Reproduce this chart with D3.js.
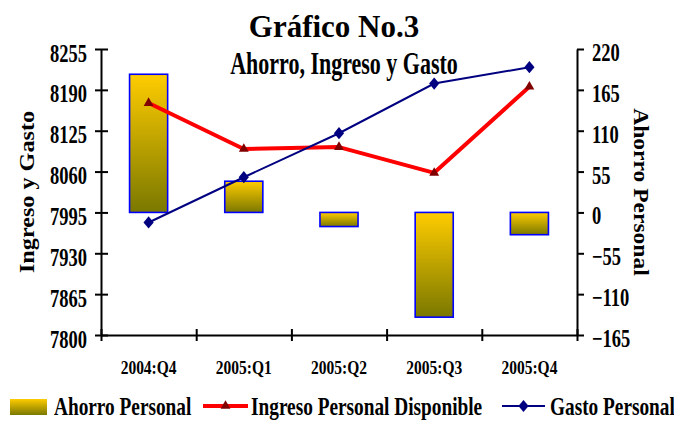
<!DOCTYPE html>
<html>
<head>
<meta charset="utf-8">
<script src="https://cdn.jsdelivr.net/npm/d3@7"></script>
<style>
  html, body { margin: 0; padding: 0; background: #fff; }
  svg { display: block; }
</style>
</head>
<body>
<div id="chart"></div>
<script>
const categories = ["2004:Q4", "2005:Q1", "2005:Q2", "2005:Q3", "2005:Q4"];
const ahorro = [186, 42, -19, -141, -30];
const ingreso = [8169, 8096, 8099, 8058, 8195];
const gasto = [7979, 8051, 8121, 8200, 8226];
const leftTicks = [7800, 7865, 7930, 7995, 8060, 8125, 8190, 8255];
const rightTicks = [-165, -110, -55, 0, 55, 110, 165, 220];
const seriesNames = ["Ahorro Personal", "Ingreso Personal Disponible", "Gasto Personal"];
const titleText = "Gráfico No.3";
const subtitleText = "Ahorro, Ingreso y Gasto";
const leftTitle = "Ingreso y Gasto";
const rightTitle = "Ahorro Personal";

const W = 674, H = 421;
const FONT = "'Liberation Serif', 'Times New Roman', serif";
const plot = { left: 101, right: 577, top: 49, bottom: 335 };

const svg = d3.select("#chart").append("svg")
  .attr("width", W).attr("height", H)
  .attr("font-family", FONT).attr("font-weight", "bold");
svg.append("rect").attr("width", W).attr("height", H).attr("fill", "#fff");

const defs = svg.append("defs");
const grad = defs.append("linearGradient").attr("id", "barGrad")
  .attr("x1", 0).attr("y1", 0).attr("x2", 0).attr("y2", 1);
grad.append("stop").attr("offset", "0%").attr("stop-color", "#FFCC00");
grad.append("stop").attr("offset", "100%").attr("stop-color", "#7A7800");

function sText(parent, x, y, str, size, sx, sy, anchor, rot) {
  return parent.append("text")
    .attr("transform", `translate(${x},${y}) scale(${sx},${sy}) rotate(${rot || 0})`)
    .attr("font-size", size)
    .attr("text-anchor", anchor || "start")
    .attr("fill", "#000")
    .text(str);
}

// scales
const xBand = d3.scaleBand().domain(categories).range([plot.left, plot.right]).padding(0);
const xBar = d3.scaleBand().domain(categories).range([plot.left, plot.right])
  .paddingInner(0.6).paddingOuter(0.3);
const xEdge = d3.scaleLinear().domain([0, categories.length]).range([plot.left, plot.right]);
const yL = d3.scaleLinear().domain([7800, 8255]).range([plot.bottom, plot.top]);
const yR = d3.scaleLinear().domain([-165, 220]).range([plot.bottom, plot.top]);
const cx = d => xBand(d) + xBand.bandwidth() / 2;

// bars
svg.append("g").selectAll("rect").data(ahorro).join("rect")
  .attr("x", (d, i) => xBar(categories[i]))
  .attr("width", xBar.bandwidth())
  .attr("y", d => yR(Math.max(0, d)))
  .attr("height", d => Math.abs(yR(d) - yR(0)))
  .attr("fill", "url(#barGrad)")
  .attr("stroke", "#0000FF").attr("stroke-width", 1.6);

// axes
const gL = svg.append("g").attr("transform", `translate(${plot.left},0)`)
  .call(d3.axisLeft(yL).tickValues(leftTicks).tickSize(6).tickSizeOuter(0).tickFormat(d3.format("d")));
const gR = svg.append("g").attr("transform", `translate(${plot.right},0)`)
  .call(d3.axisRight(yR).tickValues(rightTicks).tickSize(7).tickSizeOuter(0).tickFormat(d3.format("d")));
const gX = svg.append("g").attr("transform", `translate(0,${plot.bottom})`)
  .call(d3.axisBottom(xEdge).tickValues(d3.range(categories.length + 1)).tickSize(6).tickSizeOuter(0).tickFormat(""));
const gXL = svg.append("g").attr("transform", `translate(0,${plot.bottom})`)
  .call(d3.axisBottom(xBand).tickSize(0).tickSizeOuter(0));

[gL, gR, gX, gXL].forEach(g => {
  g.attr("font-family", FONT).attr("font-weight", "bold");
  g.select(".domain").attr("stroke", "#000").attr("stroke-width", 2);
  g.selectAll(".tick line").attr("stroke", "#000").attr("stroke-width", 2);
  g.selectAll(".tick text").attr("fill", "#000");
});
gXL.select(".domain").remove();
gL.selectAll(".tick line").attr("x1", 7);
gX.selectAll(".tick line").attr("y1", -6);

gL.attr("font-size", 18.5);
gL.selectAll(".tick text").attr("x", -14).attr("dy", null).attr("y", 12 / 1.36)
  .attr("transform", "scale(1,1.36)");
gR.attr("font-size", 18.5);
gR.selectAll(".tick text").attr("x", 15).attr("dy", null).attr("y", 11.5 / 1.36)
  .attr("transform", "scale(1,1.36)");
gXL.attr("font-size", 15.5);
gXL.selectAll(".tick text").attr("dy", null).attr("y", 39 / 1.28)
  .attr("transform", "scale(1,1.28)");

// lines
const lineL = d3.line().x((d, i) => cx(categories[i])).y(d => yL(d));
svg.append("path").datum(ingreso).attr("d", lineL)
  .attr("fill", "none").attr("stroke", "#FF0000").attr("stroke-width", 4).attr("stroke-linejoin", "round");
svg.append("g").selectAll("path").data(ingreso).join("path")
  .attr("d", d3.symbol(d3.symbolTriangle, 42))
  .attr("transform", (d, i) => `translate(${cx(categories[i])},${yL(d)})`)
  .attr("fill", "#800000");

svg.append("path").datum(gasto).attr("d", lineL)
  .attr("fill", "none").attr("stroke", "#000080").attr("stroke-width", 2);
svg.append("g").selectAll("path").data(gasto).join("path")
  .attr("d", d3.symbol(d3.symbolSquare, 52))
  .attr("transform", (d, i) => `translate(${cx(categories[i])},${yL(d)}) scale(1,1.2) rotate(45)`)
  .attr("fill", "#000080");

// titles
sText(svg, 334, 37, titleText, 31, 1, 1.05, "middle");
sText(svg, 344, 74, subtitleText, 22, 1, 1.4, "middle");
sText(svg, 34, 192, leftTitle, 22, 1, 1.1, "middle", -90);
sText(svg, 634, 192, rightTitle, 22, 1, 1.07, "middle", 90);

// legend
const leg = svg.append("g");
leg.append("rect").attr("x", 10).attr("y", 399).attr("width", 37).attr("height", 16)
  .attr("fill", "url(#barGrad)");
sText(leg, 54, 415, seriesNames[0], 19.3, 1, 1.28, "start");
leg.append("line").attr("x1", 203).attr("x2", 248).attr("y1", 406).attr("y2", 406)
  .attr("stroke", "#FF0000").attr("stroke-width", 4);
leg.append("path").attr("d", d3.symbol(d3.symbolTriangle, 42))
  .attr("transform", "translate(225.5,406)").attr("fill", "#800000");
sText(leg, 251, 415, seriesNames[1], 19.3, 1, 1.28, "start");
leg.append("line").attr("x1", 502).attr("x2", 545).attr("y1", 406).attr("y2", 406)
  .attr("stroke", "#000080").attr("stroke-width", 2);
leg.append("path").attr("d", d3.symbol(d3.symbolSquare, 52))
  .attr("transform", "translate(523.5,406) scale(1,1.2) rotate(45)").attr("fill", "#000080");
sText(leg, 550, 415, seriesNames[2], 19.3, 1, 1.28, "start");
</script>
</body>
</html>
